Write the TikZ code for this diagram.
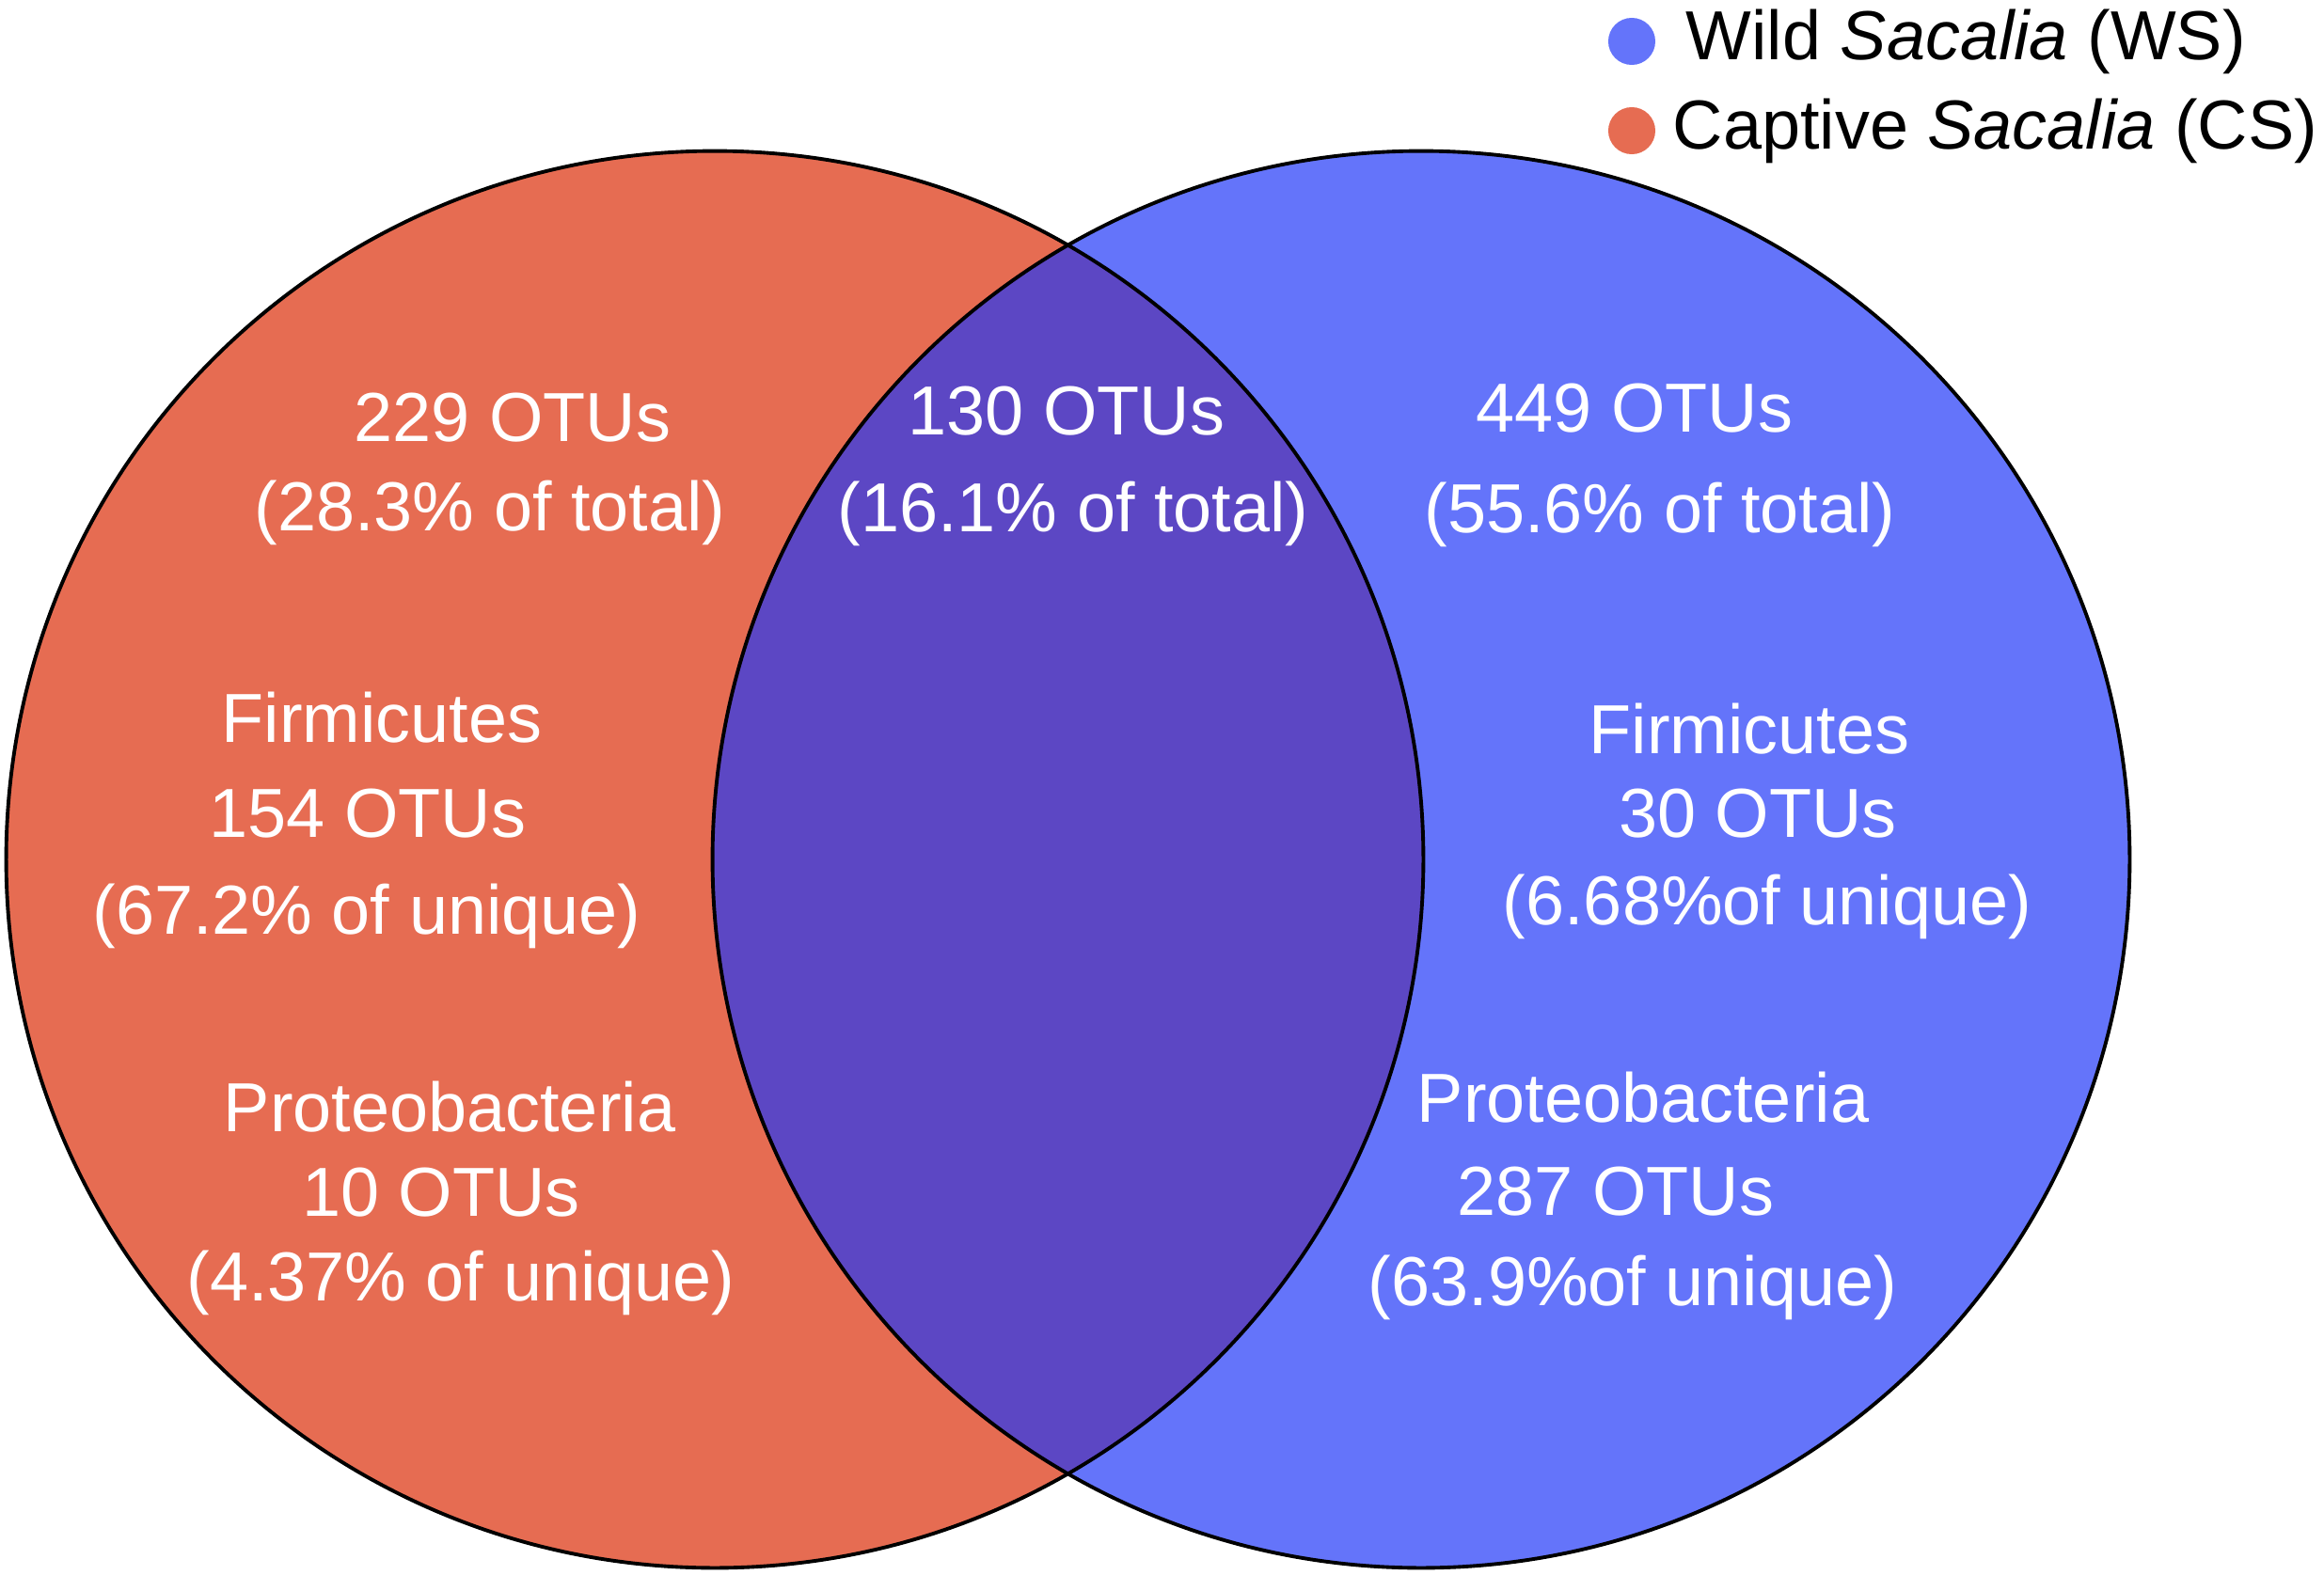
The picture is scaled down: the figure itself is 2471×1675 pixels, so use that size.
\documentclass[tikz,border=0pt]{standalone}
\usepackage{fontspec}
\setmainfont{Liberation Sans}
\usetikzlibrary{positioning}
\definecolor{captive}{RGB}{230,108,82}
\definecolor{wild}{RGB}{100,116,250}
\definecolor{shared}{RGB}{92,71,196}

\begin{document}
\begin{tikzpicture}[x=0.01cm, y=-0.01cm,
  lbl/.style={text=white, font=\fontsize{21}{25}\selectfont, anchor=base, inner sep=0pt},
  key/.style={font=\fontsize{21}{25}\selectfont, anchor=base west, inner sep=0pt},
  dot/.style={circle, inner sep=0pt, minimum size=0.5cm},
  ring/.style={draw=black, line width=1.1pt}]
  \useasboundingbox (0,0) rectangle (2471,1675);

  % Circles
  \coordinate (cs) at (760,914);
  \coordinate (ws) at (1511,914);
  \fill[captive] (cs) circle[radius=7.53cm];
  \fill[wild] (ws) circle[radius=7.53cm];
  \begin{scope}
    \clip (cs) circle[radius=7.53cm];
    \fill[shared] (ws) circle[radius=7.53cm];
  \end{scope}
  \draw[ring] (cs) circle[radius=7.53cm];
  \draw[ring] (ws) circle[radius=7.53cm];

  % Captive only
  \node[lbl] (csOtu) at (545,469) {229 OTUs};
  \node[lbl] (csTot) at (521,564) {(28.3\% of total)};
  \node[lbl] (csFir) at (406,789) {Firmicutes};
  \node[lbl] (csFirN) at (391,890) {154 OTUs};
  \node[lbl] (csFirP) at (390,993) {(67.2\% of unique)};
  \node[lbl] (csPro) at (478,1203) {Proteobacteria};
  \node[lbl] (csProN) at (469,1293) {10 OTUs};
  \node[lbl] (csProP) at (490,1383) {(4.37\% of unique)};

  % Shared
  \node[lbl] (shOtu) at (1134,462) {130 OTUs};
  \node[lbl] (shTot) at (1141,565) {(16.1\% of total)};

  % Wild only
  \node[lbl] (wsOtu) at (1738,459) {449 OTUs};
  \node[lbl] (wsTot) at (1765,566) {(55.6\% of total)};
  \node[lbl] (wsFir) at (1860,801) {Firmicutes};
  \node[lbl] (wsFirN) at (1869,890) {30 OTUs};
  \node[lbl] (wsFirP) at (1879,983) {(6.68\%of unique)};
  \node[lbl] (wsPro) at (1747,1193) {Proteobacteria};
  \node[lbl] (wsProN) at (1718,1292) {287 OTUs};
  \node[lbl] (wsProP) at (1736,1388) {(63.9\%of unique)};

  % Legend
  \node[dot, fill=wild] (wsDot) at (1735,44) {};
  \node[dot, fill=captive] (csDot) at (1735,139) {};
  \node[key] (wsKey) at (1792,63) {Wild \textit{Sacalia} (WS)};
  \node[key] (csKey) at (1778,158) {Captive \textit{Sacalia} (CS)};
\end{tikzpicture}
\end{document}
